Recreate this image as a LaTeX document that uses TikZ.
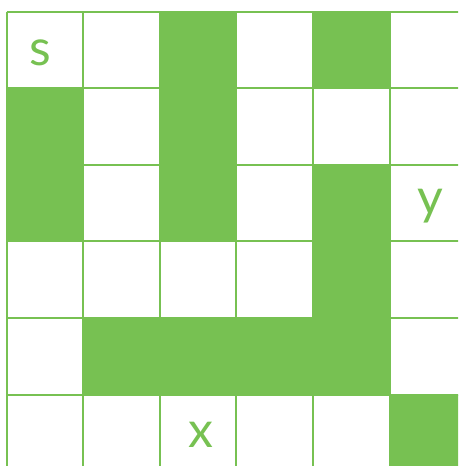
\documentclass[tikz,border=0pt]{standalone}
\usepackage{fontspec}
\setmainfont{Lato}
\definecolor{grn}{HTML}{77C152}
\begin{document}
\begin{tikzpicture}[x=1pt,y=-1pt,
  cellfill/.style={fill=grn},
  gridline/.style={draw=grn,line width=2pt},
  lbl/.style={text=grn,font=\fontsize{50}{52}\selectfont,anchor=base,inner sep=0pt}]
\useasboundingbox (0,0) rectangle (458,466);
\clip (0,0) rectangle (458,466);
\def\p{76.6}
\foreach \c/\r in {2/0,4/0,0/1,2/1,0/2,2/2,4/2,4/3,1/4,2/4,3/4,4/4,5/5}
  \fill[cellfill] ({6.5+\c*\p},{11.5+\r*\p}) rectangle ++(\p,\p);
\foreach \i in {0,...,6} {
  \draw[gridline] ({6.5+\i*\p},11.5) -- ({6.5+\i*\p},{11.5+6*\p});
  \draw[gridline] (6.5,{11.5+\i*\p}) -- ({6.5+6*\p},{11.5+\i*\p});
}
\node[lbl] (s) at (40,65) {s};
\node[lbl] (y) at (430,214) {y};
\node[lbl] (x) at (200.5,447) {x};
\end{tikzpicture}
\end{document}
